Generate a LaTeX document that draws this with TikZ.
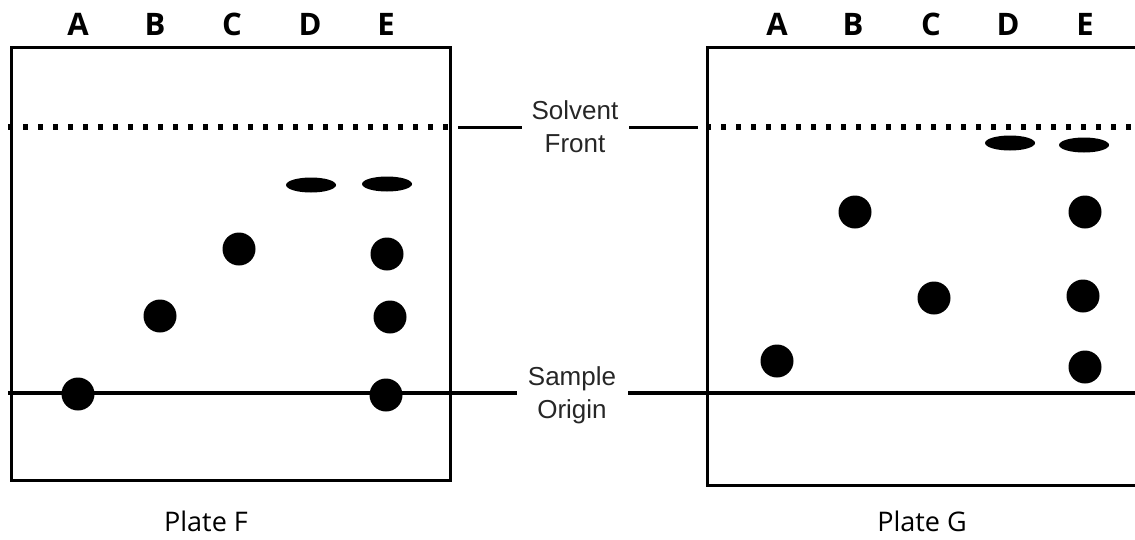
\documentclass[tikz,border=0pt]{standalone}
\usepackage{fontspec}
\setmainfont{Open Sans}
\newfontfamily\arialf{Liberation Sans}
\usetikzlibrary{shapes.geometric}
\begin{document}
\begin{tikzpicture}[x=1pt,y=-1pt,
  platebox/.style={line width=3pt},
  spot/.style={circle, fill=black, minimum size=33pt, inner sep=0pt},
  band/.style={ellipse, fill=black, minimum width=50pt, minimum height=15pt, inner sep=0pt},
  lane/.style={font=\bfseries\fontsize{31}{33}\selectfont, anchor=base},
  mid/.style={font=\arialf\fontsize{26}{33}\selectfont, align=center, text=black!85},
  caption/.style={font=\fontsize{27}{30}\selectfont, anchor=base},
  front/.style={line width=6pt, dash pattern=on 5pt off 10pt},
  origin/.style={line width=3.5pt},
  lead/.style={line width=3pt}]
\useasboundingbox (0,0) rectangle (1135,539);
% plate F
\draw[platebox] (11,47) rectangle (450,480);
% plate G (right edge outside)
\draw[platebox] (1135,47) -- (707,47) -- (707,485) -- (1135,485);
% lane labels
\foreach \n/\x in {A/78,B/155,C/232,D/310,E/386}{\node[lane] (F\n) at (\x,35) {\n};}
\foreach \n/\x in {A/777,B/853,C/931,D/1008,E/1085}{\node[lane] (G\n) at (\x,35) {\n};}
% middle labels
\node[mid] (sf) at (575,127) {Solvent\\Front};
\node[mid] (so) at (572,395) {Sample\\Origin};
% solvent front
\coordinate (sfA) at (8,127);
\coordinate (sfB) at (452,127);
\coordinate (sfC) at (458,127);
\coordinate (sfD) at (522,127);
\coordinate (sfE) at (629,127);
\coordinate (sfF) at (698,127);
\coordinate (sfG) at (706,127);
\coordinate (sfH) at (1135,127);
\draw[front] (sfA) -- (sfB);
\draw[front] (sfG) -- (sfH);
\draw[lead] (sfC) -- (sfD);
\draw[lead] (sfE) -- (sfF);
% sample origin
\coordinate (soA) at (8,393);
\coordinate (soB) at (517,393);
\coordinate (soC) at (628,393);
\coordinate (soD) at (1135,393);
\draw[origin] (soA) -- (soB);
\draw[origin] (soC) -- (soD);
% spots plate F
\node[spot] (fa) at (78,394) {};
\node[spot] (fb) at (160,316) {};
\node[spot] (fc) at (239,249) {};
\node[band] (fd) at (311,185) {};
\node[band] (fe1) at (387,184) {};
\node[spot] (fe2) at (387,254) {};
\node[spot] (fe3) at (390,317) {};
\node[spot] (fe4) at (386,395) {};
% spots plate G
\node[spot] (ga) at (777,361) {};
\node[spot] (gb) at (855,212) {};
\node[spot] (gc) at (934,298) {};
\node[band] (gd) at (1010,143) {};
\node[band] (ge1) at (1084,145) {};
\node[spot] (ge2) at (1085,212) {};
\node[spot] (ge3) at (1083,296) {};
\node[spot] (ge4) at (1085,367) {};
% captions
\node[caption] (capF) at (206,531) {Plate F};
\node[caption] (capG) at (922,531) {Plate G};
\end{tikzpicture}
\end{document}
